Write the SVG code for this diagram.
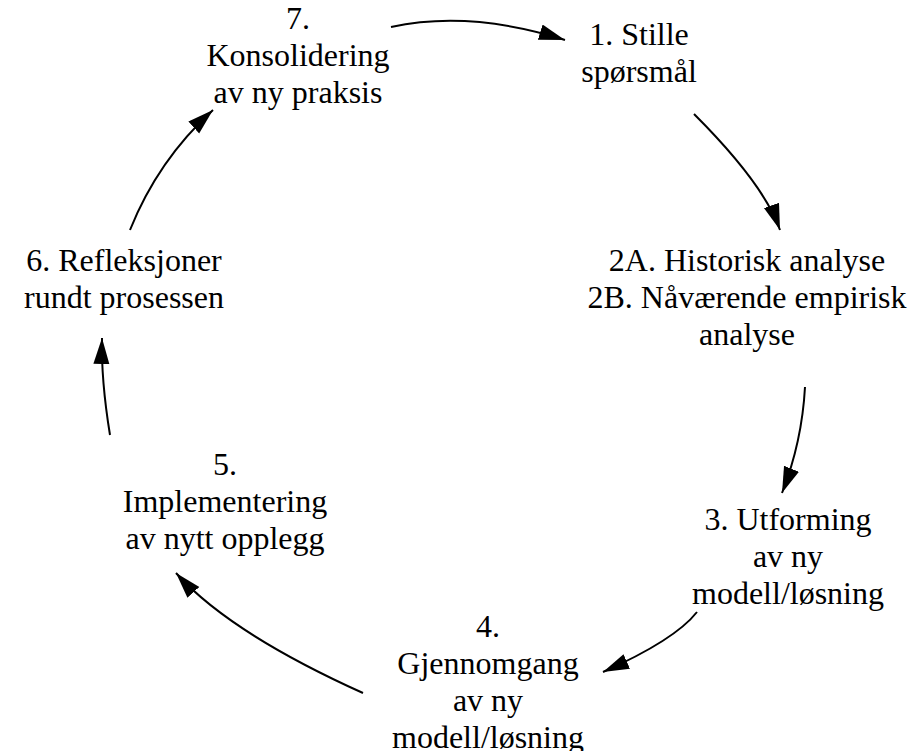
<svg xmlns="http://www.w3.org/2000/svg" width="913" height="751" viewBox="0 0 913 751">
<defs>
<style>
.t text{font-size:32px;fill:#000;text-anchor:middle}
.c path{fill:none;stroke:#000;stroke-width:2}
</style>
<marker id="ah" markerUnits="userSpaceOnUse" markerWidth="28" markerHeight="18" refX="26" refY="8" orient="auto" viewBox="0 0 28 18">
<path d="M0,0 L26,8 L0,16 z" fill="#000"/>
</marker>
</defs>
<rect width="913" height="751" fill="#fff"/>
<g class="c" id="connectors">
<path d="M391,27 Q470,10 565,40" marker-end="url(#ah)"/>
<path d="M694,114 Q764,184 780,230" marker-end="url(#ah)"/>
<path d="M805,387 Q802,442 782,493" marker-end="url(#ah)"/>
<path d="M697,612 Q675,640 603,672" marker-end="url(#ah)"/>
<path d="M363,693 Q230,633 176,573" marker-end="url(#ah)"/>
<path d="M110,435 Q101,380 102,338" marker-end="url(#ah)"/>
<path d="M130,230 Q158,160 213,110" marker-end="url(#ah)"/>
</g>
<g class="t" font-family="Liberation Serif, Times New Roman, DejaVu Serif, serif">
<g id="n1"><text x="639" y="45">1. Stille</text><text x="639" y="82">spørsmål</text></g>
<g id="n2"><text x="747" y="271">2A. Historisk analyse</text><text x="747" y="308">2B. Nåværende empirisk</text><text x="747" y="345">analyse</text></g>
<g id="n3"><text x="788" y="530">3. Utforming</text><text x="788" y="567">av ny</text><text x="788" y="604">modell/løsning</text></g>
<g id="n4"><text x="488" y="637">4.</text><text x="488" y="674">Gjennomgang</text><text x="488" y="711">av ny</text><text x="488" y="748">modell/løsning</text></g>
<g id="n5"><text x="225" y="475">5.</text><text x="225" y="512">Implementering</text><text x="225" y="549">av nytt opplegg</text></g>
<g id="n6"><text x="124" y="271">6. Refleksjoner</text><text x="124" y="308">rundt prosessen</text></g>
<g id="n7"><text x="298" y="29">7.</text><text x="298" y="66">Konsolidering</text><text x="298" y="103">av ny praksis</text></g>
</g>
</svg>
